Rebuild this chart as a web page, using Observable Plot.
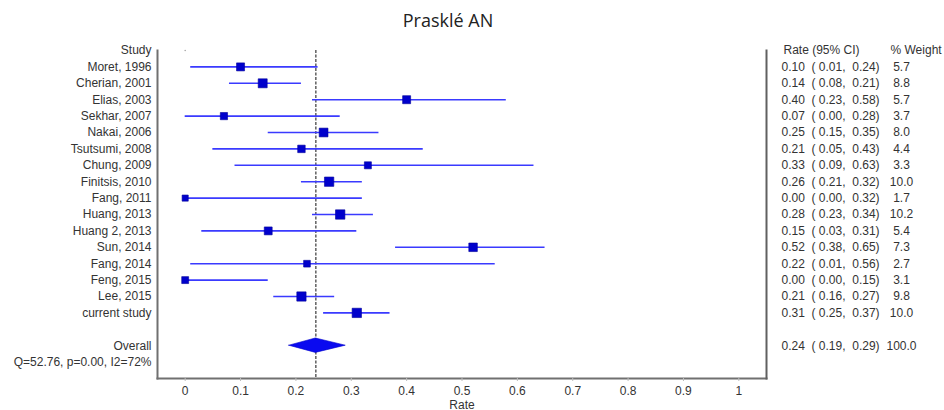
<!DOCTYPE html>
<html>
<head>
<meta charset="utf-8">
<script src="https://cdn.jsdelivr.net/npm/d3@7"></script>
<script src="https://cdn.jsdelivr.net/npm/@observablehq/plot@0.6"></script>
<style>
  html, body { margin: 0; padding: 0; background: #fff; }
  #wrap { width: 944px; }
  #title { position: relative; height: 36px; }
  #title span { position: absolute; left: 448px; top: 11px; transform: translateX(-50%);
    font-family: "Open Sans", sans-serif; font-size: 18px; line-height: 18px; color: #222; white-space: nowrap; }
  svg text { white-space: pre; }
</style>
</head>
<body>
<div id="wrap">
  <div id="title"><span>Prasklé AN</span></div>
  <div id="chart"></div>
</div>
<script>
// ---- data ----
const studies = ["Moret, 1996", "Cherian, 2001", "Elias, 2003", "Sekhar, 2007", "Nakai, 2006",
  "Tsutsumi, 2008", "Chung, 2009", "Finitsis, 2010", "Fang, 2011", "Huang, 2013",
  "Huang 2, 2013", "Sun, 2014", "Fang, 2014", "Feng, 2015", "Lee, 2015", "current study"];
const rates  = [0.10, 0.14, 0.40, 0.07, 0.25, 0.21, 0.33, 0.26, 0.00, 0.28, 0.15, 0.52, 0.22, 0.00, 0.21, 0.31];
const lower  = [0.01, 0.08, 0.23, 0.00, 0.15, 0.05, 0.09, 0.21, 0.00, 0.23, 0.03, 0.38, 0.01, 0.00, 0.16, 0.25];
const upper  = [0.24, 0.21, 0.58, 0.28, 0.35, 0.43, 0.63, 0.32, 0.32, 0.34, 0.31, 0.65, 0.56, 0.15, 0.27, 0.37];
const weights = [5.7, 8.8, 5.7, 3.7, 8.0, 4.4, 3.3, 10.0, 1.7, 10.2, 5.4, 7.3, 2.7, 3.1, 9.8, 10.0];
const overallLabel = "Overall";
const overallRate = 0.236, overallLower = 0.188, overallUpper = 0.290, overallWeight = 100.0;
const heterogeneity = "Q=52.76, p=0.00, I2=72%";
const headerStudy = "Study", headerRate = "Rate (95% CI)", headerWeight = "% Weight";
const xTicks = [0, 0.1, 0.2, 0.3, 0.4, 0.5, 0.6, 0.7, 0.8, 0.9, 1];
const xLabel = "Rate";

// ---- derived tables ----
const fmt = v => v.toFixed(2);
const ci = (r, l, h) => `${fmt(r)}  ( ${fmt(l)},  ${fmt(h)})`;
const rows = studies.map((s, i) => ({
  study: s, row: i + 1, rate: rates[i], lo: lower[i], hi: upper[i], w: weights[i],
  ciText: ci(rates[i], lower[i], upper[i]), wText: weights[i].toFixed(1)
}));
const overallRow = studies.length + 2;   // one blank row, then Overall
const hetRow = overallRow + 1;
const lastRow = hetRow + 1;
const headerRow = 0;
const dh = 0.44; // diamond half-height in rows
const diamond = [
  {x: overallLower, y1: overallRow, y2: overallRow},
  {x: overallRate, y1: overallRow - dh, y2: overallRow + dh},
  {x: overallUpper, y1: overallRow, y2: overallRow}
];
const leftTexts = [
  {t: headerStudy, row: headerRow},
  ...rows.map(d => ({t: d.study, row: d.row})),
  {t: overallLabel, row: overallRow},
  {t: heterogeneity, row: hetRow}
];
const rateTexts = [
  ...rows.map(d => ({t: d.ciText, row: d.row})),
  {t: ci(overallRate, overallLower, overallUpper), row: overallRow}
];
const weightTexts = [
  ...rows.map(d => ({t: d.wText, row: d.row})),
  {t: overallWeight.toFixed(1), row: overallRow}
];

const font = "'Liberation Sans', Arial, sans-serif";
const textColor = "#333";

const chart = Plot.plot({
  width: 944,
  height: 374,
  marginLeft: 157,
  marginRight: 178,
  marginTop: 14,
  marginBottom: 32,
  style: {fontFamily: font, fontSize: "12px", color: textColor, background: "#fff"},
  x: {domain: [-0.05, 1.05]},
  y: {domain: [headerRow, lastRow], reverse: true, axis: null},
  r: {type: "sqrt", domain: [0, 10.2], range: [2.2, 5.3]},
  marks: [
    Plot.frame({anchor: "left", stroke: "#707070", strokeWidth: 2}),
    Plot.frame({anchor: "bottom", stroke: "#707070", strokeWidth: 2}),
    Plot.frame({anchor: "right", stroke: "#606060", strokeWidth: 2}),
    Plot.axisX({
      ticks: xTicks, tickSize: 3, tickPadding: 5, stroke: "#bbb",
      tickFormat: d => String(+d.toFixed(1)),
      label: xLabel, labelAnchor: "center", labelArrow: "none", labelOffset: 30,
      fontSize: 12, fill: textColor
    }),
    Plot.ruleX([overallRate], {stroke: "#555", strokeWidth: 1.4, strokeDasharray: "3,1.5"}),
    Plot.ruleY(rows, {y: "row", x1: "lo", x2: "hi", stroke: "#3a3aff", strokeWidth: 1.6}),
    Plot.dot(rows, {x: "rate", y: "row", r: "w", symbol: "square", fill: "#0000cc", stroke: "#00009a", strokeWidth: 0.6}),
    Plot.dot([headerRow], {x: 0, y: d => d, r: 0.7, fill: "#999"}),
    Plot.areaY(diamond, {x: "x", y1: "y1", y2: "y2", fill: "#0a0af0", stroke: "#0000cc", strokeWidth: 0.6}),
    Plot.text(leftTexts, {y: "row", text: "t", frameAnchor: "left", textAnchor: "end", dx: -6, fill: textColor, fontSize: 12}),
    Plot.text([headerRate], {y: () => headerRow, text: d => d, frameAnchor: "right", textAnchor: "start", dx: 17, fill: textColor, fontSize: 12}),
    Plot.text([headerWeight], {y: () => headerRow, text: d => d, frameAnchor: "right", textAnchor: "start", dx: 124, fill: textColor, fontSize: 12}),
    Plot.text(rateTexts, {y: "row", text: "t", frameAnchor: "right", textAnchor: "start", dx: 15, fill: textColor, fontSize: 12}),
    Plot.text(weightTexts, {y: "row", text: "t", frameAnchor: "right", textAnchor: "middle", dx: 135, fill: textColor, fontSize: 12})
  ]
});
document.getElementById("chart").appendChild(chart);
</script>
</body>
</html>
